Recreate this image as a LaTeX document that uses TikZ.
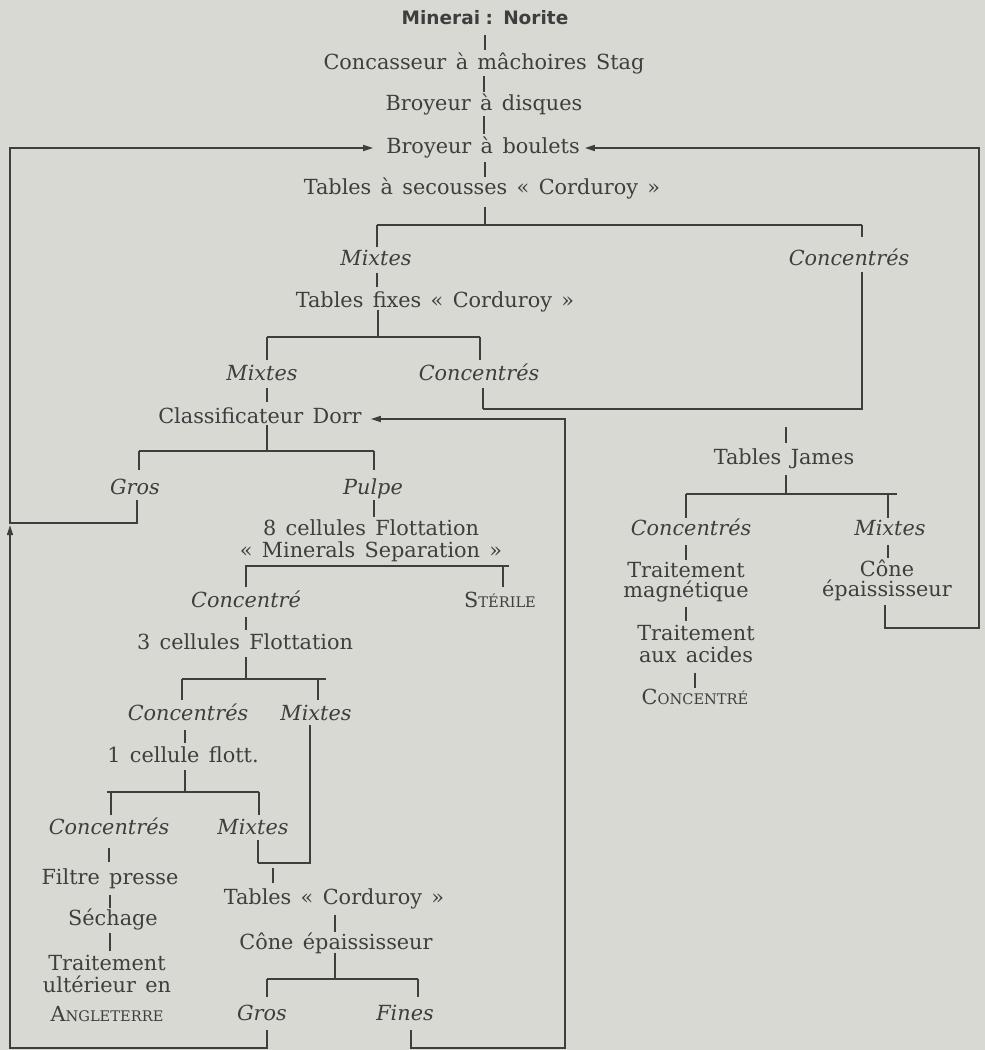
\documentclass[tikz,border=0pt]{standalone}
\usepackage{fontspec}
\setmainfont{DejaVu Serif}
\newfontfamily\titlefont{DejaVu Sans}
\usetikzlibrary{arrows.meta}
\definecolor{paper}{RGB}{217,217,211}
\definecolor{ink}{RGB}{62,62,62}
\newcommand{\bodyfont}{\fontsize{20.8}{22}\selectfont\spaceskip=0.45em\relax}
\newcommand{\headfont}{\titlefont\bfseries\fontsize{18.5}{20}\selectfont}
\newcommand{\fsc}[2]{#1{\fontsize{14.6}{16}\selectfont #2}}
\begin{document}
\begin{tikzpicture}[x=1pt,y=-1pt,
  every node/.style={inner sep=0pt, text=ink},
  lbl/.style={font=\bodyfont, text height=15pt, text depth=0pt},
  itl/.style={font=\bodyfont\itshape, text height=15pt, text depth=0pt},
  multi/.style={font=\bodyfont, align=center},
  head/.style={font=\headfont, text height=13pt, text depth=0pt},
  ln/.style={draw=ink, line width=1.6pt},
  arr/.style={ln, -{Triangle[length=10pt,width=6pt]}}]
\useasboundingbox (0,0) rectangle (985,1050);
\fill[paper] (0,0) rectangle (985,1050);

% ---- nodes
\node[head] (n0) at (485,18) {Minerai\hspace{0.3em}:\hspace{0.55em}Norite};
\node[lbl] (n1) at (484,62) {Concasseur à mâchoires Stag};
\node[lbl] (n2) at (484,103) {Broyeur à disques};
\node[lbl] (n3) at (483,146) {Broyeur à boulets};
\node[lbl] (n4) at (482,187) {Tables à secousses « Corduroy »};
\node[itl] (n5) at (376,258) {Mixtes};
\node[itl] (n6) at (849,258) {Concentrés};
\node[lbl] (n7) at (435,300) {Tables fixes « Corduroy »};
\node[itl] (n8) at (262,373) {Mixtes};
\node[itl] (n9) at (479,373) {Concentrés};
\node[lbl] (n10) at (260,416) {Classificateur Dorr};
\node[itl] (n11) at (135,487) {Gros};
\node[itl] (n12) at (373,487) {Pulpe};
\node[multi] (n13) at (371,541) {8 cellules Flottation\\« Minerals Separation »};
\node[itl] (n14) at (246,600) {Concentré};
\node[lbl] (n15) at (500,600) {\fsc{S}{TÉRILE}};
\node[lbl] (n16) at (245,642) {3 cellules Flottation};
\node[itl] (n17) at (188,713) {Concentrés};
\node[itl] (n18) at (316,713) {Mixtes};
\node[lbl] (n19) at (183,755) {1 cellule flott.};
\node[itl] (n20) at (109,827) {Concentrés};
\node[itl] (n21) at (253,827) {Mixtes};
\node[lbl] (n22) at (110,877) {Filtre presse};
\node[lbl] (n23) at (113,918) {Séchage};
\node[multi] (n24) at (107,988) {Traitement\\ultérieur en\\[7pt]\fsc{A}{NGLETERRE}};
\node[lbl] (n25) at (334,897) {Tables « Corduroy »};
\node[lbl] (n26) at (336,942) {Cône épaississeur};
\node[itl] (n27) at (262,1013) {Gros};
\node[itl] (n28) at (405,1013) {Fines};
\node[lbl] (n29) at (784,457) {Tables James};
\node[itl] (n30) at (691,528) {Concentrés};
\node[itl] (n31) at (890,528) {Mixtes};
\node[multi] (n32) at (686,582) {Traitement\\[-2pt]magnétique};
\node[multi] (n33) at (887,580) {Cône\\[-2pt]épaississeur};
\node[multi] (n34) at (696,644) {Traitement\\aux acides};
\node[lbl] (n35) at (695,697) {\fsc{C}{ONCENTRÉ}};

% ---- junction coordinates
\coordinate (b1l) at (377,225); \coordinate (b1r) at (862,225); \coordinate (b1j) at (485,225);
\coordinate (b2l) at (267,337); \coordinate (b2r) at (480,337); \coordinate (b2j) at (378,337);
\coordinate (b3l) at (139,451); \coordinate (b3r) at (374,451); \coordinate (b3j) at (267,451);
\coordinate (b4l) at (245,566); \coordinate (b4r) at (509,566);
\coordinate (b4a) at (246,566); \coordinate (b4b) at (503,566);
\coordinate (b5l) at (182,679); \coordinate (b5r) at (326,679);
\coordinate (b5b) at (318,679); \coordinate (b5j) at (246,679);
\coordinate (b6l) at (107,792); \coordinate (b6r) at (259,792);
\coordinate (b6a) at (111,792); \coordinate (b6j) at (185,792);
\coordinate (b7l) at (267,979); \coordinate (b7r) at (418,979); \coordinate (b7j) at (335,979);
\coordinate (b8l) at (686,494); \coordinate (b8r) at (897,494);
\coordinate (b8b) at (888,494); \coordinate (b8j) at (786,494);
\coordinate (g1) at (137,523); \coordinate (g2) at (10,523); \coordinate (g3) at (10,148);
\coordinate (h1) at (267,1048); \coordinate (h2) at (10,1048);
\coordinate (f1) at (411,1048); \coordinate (f2) at (565,1048); \coordinate (f3) at (565,419);
\coordinate (m1) at (310,863); \coordinate (m2) at (258,863); \coordinate (m3) at (273,863);
\coordinate (r1) at (862,409); \coordinate (r2) at (483,409);
\coordinate (j1) at (786,427);
\coordinate (e1) at (885,628); \coordinate (e2) at (979,628); \coordinate (e3) at (979,148);

% ---- bars
\draw[ln] (b1l) -- (b1r);
\draw[ln] (b2l) -- (b2r);
\draw[ln] (b3l) -- (b3r);
\draw[ln] (b4l) -- (b4r);
\draw[ln] (b5l) -- (b5r);
\draw[ln] (b6l) -- (b6r);
\draw[ln] (b7l) -- (b7r);
\draw[ln] (b8l) -- (b8r);

% ---- main column
\draw[ln, shorten <=10.5pt, shorten >=4.5pt] (n0.south) -- (n0.south |- n1.north);
\draw[ln, shorten <=6.5pt, shorten >=3.5pt] (n1.south) -- (n1.south |- n2.north);
\draw[ln, shorten <=5.5pt, shorten >=4.5pt] (n2.south) -- (n2.south |- n3.north);
\draw[ln, shorten <=8.5pt, shorten >=2.5pt] (b1j |- n3.south) -- (b1j |- n4.north);
\draw[ln, shorten <=12.5pt] (b1j |- n4.south) -- (b1j);
\draw[ln, shorten >=3.5pt] (b1l) -- (b1l |- n5.north);
\draw[ln, shorten >=13.5pt] (b1r) -- (b1r |- n6.north);
\draw[ln, shorten <=7.5pt, shorten >=5.5pt] (b1l |- n5.south) -- (b1l |- n7.north);
\draw[ln, shorten <=2.5pt] (b2j |- n7.south) -- (b2j);
\draw[ln, shorten >=5.5pt] (b2l) -- (b2l |- n8.north);
\draw[ln, shorten >=5.5pt] (b2r) -- (b2r |- n9.north);
\draw[ln, shorten <=7.5pt, shorten >=6.5pt] (b3j |- n8.south) -- (b3j |- n10.north);
\draw[ln, shorten <=1.5pt] (b3j |- n10.south) -- (b3j);
\draw[ln, shorten >=9.5pt] (b3l) -- (b3l |- n11.north);
\draw[ln, shorten >=9.5pt] (b3r) -- (b3r |- n12.north);
\draw[ln, shorten <=5.5pt, shorten >=2.5pt] (b3r |- n12.south) -- (b3r |- n13.north);
\draw[ln, shorten >=5.5pt] (b4a) -- (b4a |- n14.north);
\draw[ln, shorten >=5.5pt] (b4b) -- (b4b |- n15.north);
\draw[ln, shorten <=9.5pt, shorten >=4.5pt] (b4a |- n14.south) -- (b4a |- n16.north);
\draw[ln, shorten <=7.5pt] (b5j |- n16.south) -- (b5j);
\draw[ln, shorten >=5.5pt] (b5l) -- (b5l |- n17.north);
\draw[ln, shorten >=5.5pt] (b5b) -- (b5b |- n18.north);
\draw[ln, shorten <=9.5pt, shorten >=4.5pt] (b6j |- n17.south) -- (b6j |- n19.north);
\draw[ln, shorten <=7.5pt] (b6j |- n19.south) -- (b6j);
\draw[ln, shorten >=4.5pt] (b6a) -- (b6a |- n20.north);
\draw[ln, shorten >=4.5pt] (b6r) -- (b6r |- n21.north);
\draw[ln, shorten <=4.5pt] (m1 |- n18.south) -- (m1) -- (m2);
\draw[ln, shorten <=5.5pt] (m2 |- n21.south) -- (m2);
\draw[ln, shorten <=5pt, shorten >=6.5pt] (m3) -- (m3 |- n25.north);
\draw[ln, shorten <=13.5pt, shorten >=7.5pt] (n20.south) -- (n20.south |- n22.north);
\draw[ln, shorten <=10.5pt, shorten >=2.5pt] (n22.south) -- (n22.south |- n23.north);
\draw[ln, shorten <=7.5pt, shorten >=3.5pt] (n22.south |- n23.south) -- (n22.south |- n24.north);
\draw[ln, shorten <=10pt, shorten >=2.5pt] (b7j |- n25.south) -- (b7j |- n26.north);
\draw[ln, shorten <=3.5pt] (b7j |- n26.south) -- (b7j);
\draw[ln, shorten >=8.5pt] (b7l) -- (b7l |- n27.north);
\draw[ln, shorten >=8.5pt] (b7r) -- (b7r |- n28.north);

% ---- recycling loops
\draw[arr, shorten <=5.5pt, shorten >=13pt] (g1 |- n11.south) -- (g1) -- (g2) -- (g3) -- (g3 -| n3.west);
\draw[arr, shorten <=9.5pt, shorten >=2pt] (h1 |- n27.south) -- (h1) -- (h2) -- (g2);
\draw[arr, shorten <=9.5pt, shorten >=9pt] (f1 |- n28.south) -- (f1) -- (f2) -- (f3) -- (f3 -| n10.east);

% ---- right branch
\draw[ln, shorten <=6.5pt] (r1 |- n6.south) -- (r1) -- (r2);
\draw[ln, shorten <=7.5pt] (r2 |- n9.south) -- (r2);
\draw[ln, shorten >=6.5pt] (j1) -- (j1 |- n29.north);
\draw[ln, shorten <=10.5pt] (b8j |- n29.south) -- (b8j);
\draw[ln, shorten >=2.5pt] (b8l) -- (b8l |- n30.north);
\draw[ln, shorten >=2.5pt] (b8b) -- (b8b |- n31.north);
\draw[ln, shorten <=9.5pt, shorten >=1.5pt] (b8l |- n30.south) -- (b8l |- n32.north);
\draw[ln, shorten <=9.5pt, shorten >=1.5pt] (b8b |- n31.south) -- (b8b |- n33.north);
\draw[ln, shorten <=4.7pt, shorten >=4.5pt] (b8l |- n32.south) -- (b8l |- n34.north);
\draw[ln, shorten <=9.5pt, shorten >=1.5pt] (n35.north |- n34.south) -- (n35.north);
\draw[arr, shorten <=4.7pt, shorten >=5pt] (e1 |- n33.south) -- (e1) -- (e2) -- (e3) -- (e3 -| n3.east);
\end{tikzpicture}
\end{document}
